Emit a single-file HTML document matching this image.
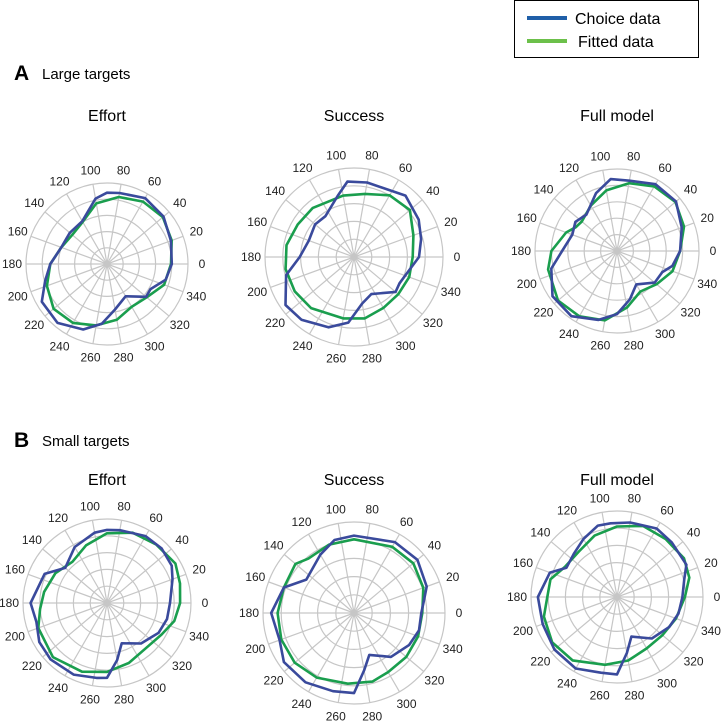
<!DOCTYPE html>
<html><head><meta charset="utf-8"><style>
body{margin:0;background:#fff;width:722px;height:721px;overflow:hidden;font-family:"Liberation Sans",sans-serif}
</style></head><body>
<svg id="fig" width="722" height="721" viewBox="0 0 722 721" xmlns="http://www.w3.org/2000/svg">
<g>
<rect x="514.5" y="0.5" width="184" height="57" fill="#fff" stroke="#000" stroke-width="1"/>
<line x1="527" y1="18" x2="567" y2="18" stroke="#1f5fa8" stroke-width="4"/>
<text x="575" y="24" font-size="16" fill="#000">Choice data</text>
<line x1="527" y1="41" x2="567" y2="41" stroke="#6cc04a" stroke-width="4"/>
<text x="578" y="47" font-size="16" fill="#000">Fitted data</text>
</g>
<text x="14" y="80" font-size="21" font-weight="bold">A</text>
<text x="42" y="79" font-size="15">Large targets</text>
<text x="14" y="447" font-size="21" font-weight="bold">B</text>
<text x="42" y="446" font-size="15">Small targets</text>
</svg>
<script>
const tickLabels = [0,20,40,60,80,100,120,140,160,180,200,220,240,260,280,300,320,340];
const ringFractions = [0.2,0.4,0.6,0.8,1.0];
const titles = ["Effort","Success","Full model","Effort","Success","Full model"];

const choiceAngles1 = [0,20,40,60,80,90,100,120,140,160,180,195,210,230,250,265,280,300,320,330,345];
const choiceValues1 = [0.80,0.84,0.91,0.94,0.89,0.88,0.82,0.61,0.60,0.60,0.70,0.79,0.93,0.95,0.86,0.74,0.57,0.46,0.63,0.62,0.75];
const fittedAngles1 = [0,20,40,60,80,100,120,140,160,180,200,220,240,260,280,300,320,340];
const fittedValues1 = [0.79,0.85,0.90,0.89,0.84,0.76,0.60,0.56,0.60,0.70,0.79,0.86,0.84,0.77,0.70,0.61,0.64,0.75];

const choiceAngles2 = [0,15,30,50,80,95,105,125,140,160,180,195,215,230,250,265,280,295,320,330,345];
const choiceValues2 = [0.73,0.78,0.84,0.90,0.85,0.85,0.71,0.56,0.57,0.54,0.61,0.79,0.94,0.92,0.84,0.74,0.53,0.46,0.61,0.59,0.63];
const fittedAngles2 = [0,20,40,60,80,100,130,150,170,190,210,230,260,280,300,320,340];
const fittedValues2 = [0.66,0.71,0.82,0.80,0.72,0.70,0.72,0.73,0.77,0.78,0.77,0.75,0.70,0.70,0.66,0.65,0.66];

const choiceAngles3 = [0,20,40,60,80,95,110,130,145,160,180,195,215,235,255,270,285,300,320,335,345];
const choiceValues3 = [0.77,0.84,0.94,0.94,0.87,0.88,0.75,0.58,0.62,0.58,0.67,0.83,0.96,0.97,0.87,0.77,0.61,0.47,0.60,0.61,0.70];
const fittedAngles3 = [0,20,40,60,80,100,120,140,150,160,180,195,220,240,260,280,300,320,340];
const fittedValues3 = [0.77,0.87,0.93,0.91,0.84,0.75,0.64,0.56,0.58,0.66,0.80,0.87,0.94,0.92,0.86,0.70,0.57,0.63,0.72];

const choiceAngles4 = [0,20,30,45,60,80,90,100,120,140,155,180,195,210,225,245,262,270,280,290,310,330,345];
const choiceValues4 = [0.75,0.83,0.89,0.92,0.92,0.88,0.87,0.85,0.77,0.65,0.82,0.91,0.87,0.93,0.95,0.94,0.90,0.89,0.69,0.51,0.63,0.71,0.74];
const fittedAngles4 = [0,15,30,50,70,90,110,130,150,170,185,200,225,250,270,290,310,330,345];
const fittedValues4 = [0.87,0.90,0.94,0.91,0.89,0.83,0.73,0.64,0.71,0.76,0.80,0.87,0.91,0.87,0.82,0.76,0.71,0.75,0.83];

const choiceAngles5 = [0,10,20,40,60,90,105,120,145,160,180,200,215,235,255,270,280,290,310,330,345];
const choiceValues5 = [0.74,0.78,0.85,0.91,0.90,0.85,0.83,0.74,0.64,0.82,0.91,0.87,0.94,0.93,0.89,0.88,0.64,0.49,0.63,0.70,0.74];
const fittedAngles5 = [0,20,40,60,90,110,130,140,160,180,200,220,240,265,285,300,320,340];
const fittedValues5 = [0.75,0.81,0.85,0.84,0.81,0.80,0.78,0.84,0.82,0.84,0.85,0.85,0.82,0.78,0.78,0.75,0.75,0.75];

const choiceAngles6 = [0,15,25,45,60,80,95,105,120,135,150,160,180,200,220,240,258,270,280,290,310,330,345];
const choiceValues6 = [0.76,0.81,0.89,0.90,0.92,0.88,0.86,0.86,0.78,0.71,0.68,0.83,0.92,0.92,0.95,0.96,0.90,0.90,0.66,0.49,0.63,0.70,0.74];
const fittedAngles6 = [0,15,30,50,70,90,110,130,150,165,180,195,215,235,260,280,300,320,340];
const fittedValues6 = [0.79,0.87,0.90,0.88,0.88,0.82,0.76,0.69,0.70,0.80,0.81,0.88,0.92,0.90,0.80,0.75,0.69,0.69,0.73];

const plots = [
 {cx:107,cy:264,r:81,ty:121,ca:choiceAngles1,cv:choiceValues1,fa:fittedAngles1,fv:fittedValues1},
 {cx:354,cy:257,r:89,ty:121,ca:choiceAngles2,cv:choiceValues2,fa:fittedAngles2,fv:fittedValues2},
 {cx:617,cy:251,r:82,ty:121,ca:choiceAngles3,cv:choiceValues3,fa:fittedAngles3,fv:fittedValues3},
 {cx:107,cy:603,r:84,ty:485,ca:choiceAngles4,cv:choiceValues4,fa:fittedAngles4,fv:fittedValues4},
 {cx:354,cy:613,r:91,ty:485,ca:choiceAngles5,cv:choiceValues5,fa:fittedAngles5,fv:fittedValues5},
 {cx:617,cy:597,r:86,ty:485,ca:choiceAngles6,cv:choiceValues6,fa:fittedAngles6,fv:fittedValues6}
];
const NS="http://www.w3.org/2000/svg";
const svg=document.getElementById('fig');
function mk(tag,attrs,parent){const e=document.createElementNS(NS,tag);for(const k in attrs)e.setAttribute(k,attrs[k]);parent.appendChild(e);return e;}
function px(p,a,v){const t=a*Math.PI/180;return [p.cx+Math.cos(t)*v*p.r,p.cy-Math.sin(t)*v*p.r];}
plots.forEach((p,i)=>{
 const g=mk('g',{},svg);
 
 
 const t=mk('text',{x:p.cx,y:p.ty,'text-anchor':'middle','font-size':16},g);
 
 
 t.textContent=titles[i];
 ringFractions.forEach(f=>{
  const c=mk('circle',{cx:p.cx,cy:p.cy,r:f*p.r,fill:'none',stroke:'#c6c6c6','stroke-width':1.2},g);
  
  
 });
 tickLabels.forEach(a=>{
  const e=px(p,a,1);
  const l=mk('line',{x1:p.cx,y1:p.cy,x2:e[0],y2:e[1],stroke:'#c6c6c6','stroke-width':1.2},g);
  
  
  const lp=px(p,a,(p.r+14)/p.r);
  const tx=mk('text',{x:lp[0],y:lp[1]+4,'text-anchor':'middle','font-size':12,fill:'#222'},g);
  
  
  tx.textContent=a;
 });
 function series(ang,val,col,name){
  const pts=ang.map((a,k)=>px(p,a,val[k]).map(n=>n.toFixed(1)).join(',')).join(' ');
  const pl=mk('polygon',{points:pts,fill:'none',stroke:col,'stroke-width':2.6,'stroke-linejoin':'round'},g);
  
  
 }
 series(p.fa,p.fv,'#1a9e4e','fitted-data-line');
 series(p.ca,p.cv,'#3a4a9c','choice-data-line');
});
</script>
</body></html>
